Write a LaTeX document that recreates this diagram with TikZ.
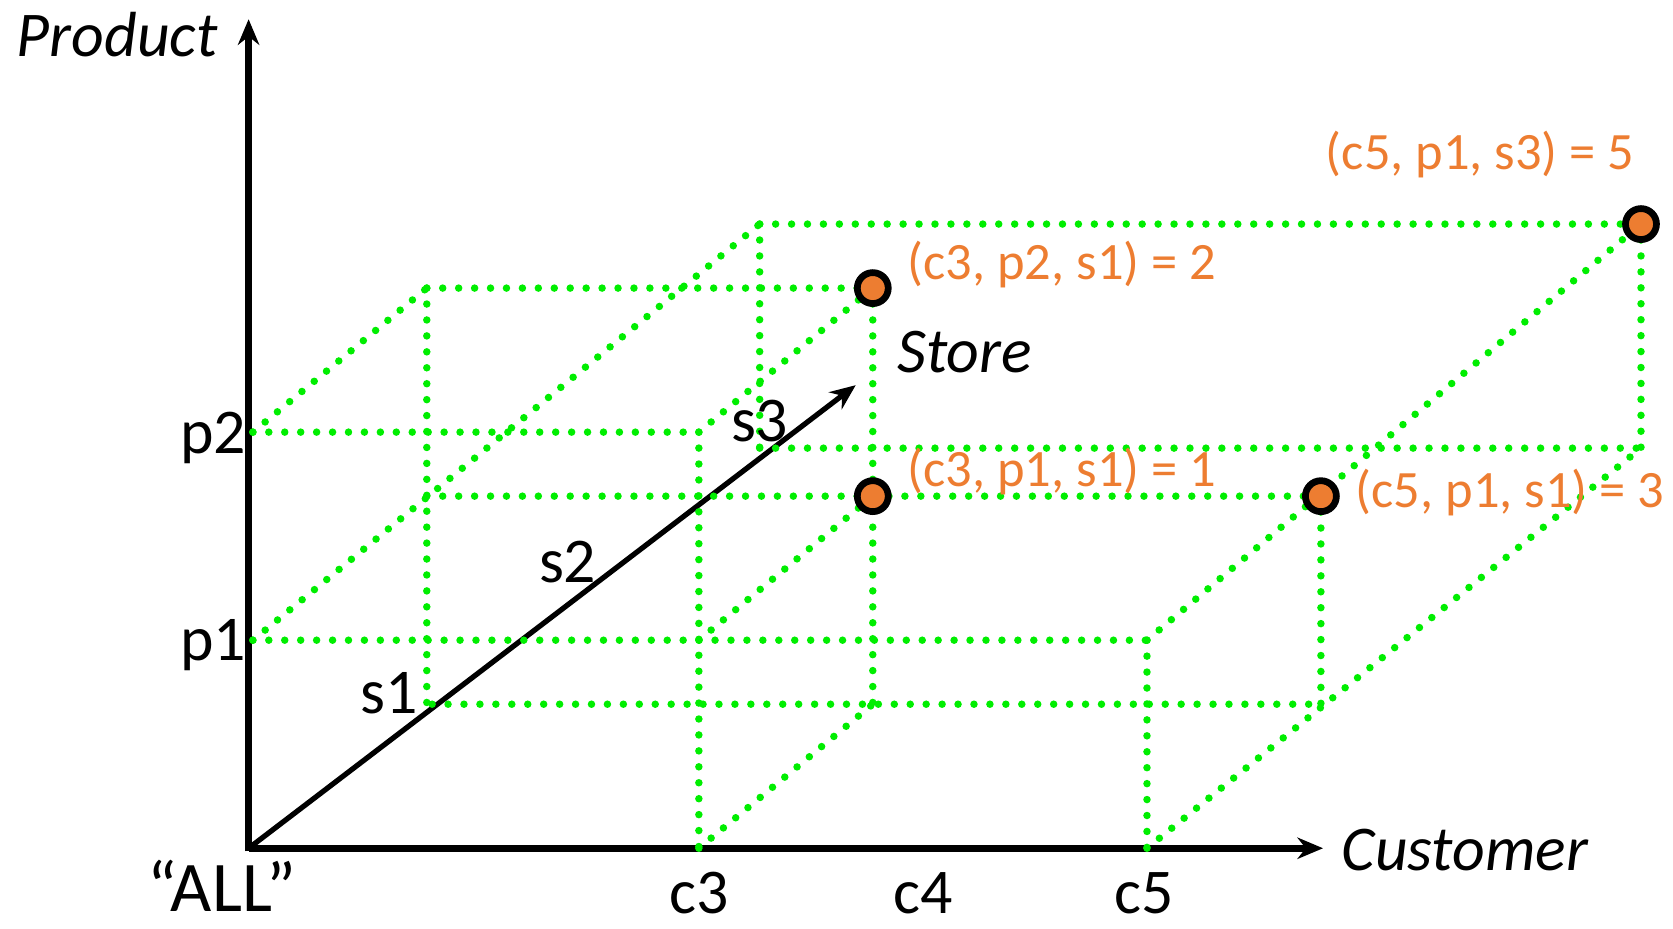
\documentclass[tikz,border=0pt]{standalone}
\usepackage{fontspec}
\setmainfont{Carlito}
\usetikzlibrary{arrows.meta, positioning, calc}
\definecolor{gridgreen}{RGB}{0,238,0}
\definecolor{cellorange}{RGB}{237,125,49}
\tikzset{
  axis/.style={line width=1.8pt, -{Stealth[length=2.4mm, width=2mm]}},
  guide/.style={draw=gridgreen, line width=2pt, line cap=round,
                dash pattern=on 0pt off 4.25pt},
  cell/.style={circle, draw=black, line width=1.8pt, fill=cellorange,
               minimum size=2.9mm, inner sep=0pt},
  axlbl/.style={font=\fontsize{17}{20}\selectfont\itshape, inner sep=0pt},
  ticklbl/.style={font=\fontsize{17}{20}\selectfont, inner sep=0pt},
  vallbl/.style={font=\fontsize{14}{17}\selectfont, text=cellorange,
                 inner sep=0pt, anchor=west}
}

\begin{document}
\begin{tikzpicture}[x=0.1mm, y=-0.1mm]
  \useasboundingbox (0,0) rectangle (1568,870);
  % corners of the cube, store = s0
  \coordinate (O)    at (233,795);
  \coordinate (p2)   at (237,405);
  \coordinate (p1)   at (237,600);
  \coordinate (c3)   at (655,795);
  \coordinate (c5)   at (1075,795);
  \coordinate (c3p2) at (655,405);
  \coordinate (c3p1) at (655,600);
  \coordinate (c5p1) at (1075,600);
  % store = s1
  \coordinate (s1)     at (405,660);
  \coordinate (s1p1)   at (400,465);
  \coordinate (s1p2)   at (400,270);
  \coordinate (c3s1)   at (818,660);
  \coordinate (c3p1s1) at (818,465);
  \coordinate (c3p2s1) at (818,270);
  \coordinate (c5s1)   at (1238,660);
  \coordinate (c5p1s1) at (1238,465);
  % store = s3
  \coordinate (s3)     at (712,420);
  \coordinate (p1s3)   at (712,210);
  \coordinate (c5s3)   at (1538,420);
  \coordinate (c5p1s3) at (1538,210);

  % axes
  \draw[axis] (233,798) -- (233,18) coordinate (ptop);
  \draw[axis] (O) -- (1240,795) coordinate (cend);
  \draw[axis, line width=1.4pt] (O) -- (802,361) coordinate (send);

  % dotted guides
  \draw[guide] (p2) -- (c3p2);
  \draw[guide] (p1) -- (c5p1);
  \draw[guide] (c3p2) -- (c3);
  \draw[guide] (c5p1) -- (c5);
  \draw[guide] (s1p2) -- (c3p2s1);
  \draw[guide] (s1p1) -- (c5p1s1);
  \draw[guide] (s1) -- (c5s1);
  \draw[guide] (s1p2) -- (400,660);
  \draw[guide] (c3p2s1) -- (c3s1);
  \draw[guide] (c5p1s1) -- (c5s1);
  \draw[guide] (p1s3) -- (c5p1s3);
  \draw[guide] (s3) -- (c5s3);
  \draw[guide] (p1s3) -- (s3);
  \draw[guide] (c5p1s3) -- (c5s3);
  \draw[guide] (p2) -- (s1p2);
  \draw[guide] (p1) -- (p1s3);
  \draw[guide] (c3p2) -- (c3p2s1);
  \draw[guide] (c3p1) -- (c3p1s1);
  \draw[guide] (c3) -- (c3s1);
  \draw[guide] (c5p1) -- (c5p1s3);
  \draw[guide] (c5) -- (c5s3);

  % cells
  \node[cell] (v1) at (c3p1s1) {};
  \node[cell] (v2) at (c3p2s1) {};
  \node[cell] (v3) at (c5p1s1) {};
  \node[cell] (v5) at (c5p1s3) {};
  \node[vallbl] (v2lbl) at (850,248) {(c3, p2, s1) = 2};
  \node[vallbl] (v1lbl) at (850,442) {(c3, p1, s1) = 1};
  \node[vallbl] (v3lbl) at (1270,462) {(c5, p1, s1) = 3};
  \node[vallbl] (v5lbl) at (1242,145) {(c5, p1, s3) = 5};

  % axis labels
  \node[axlbl] (prod)  at (110,32)  {Product};
  \node[axlbl] (cust)  at (1373,797) {Customer};
  \node[axlbl] (store) at (904,330) {Store};
  \node[ticklbl, font=\fontsize{19}{22}\selectfont] (all) at (208,830) {“ALL”};
  \node[ticklbl] at (655,837) {c3};
  \node[ticklbl] at (865,837) {c4};
  \node[ticklbl] at (1072,837) {c5};
  \node[ticklbl] at (200,605) {p1};
  \node[ticklbl] at (200,410) {p2};
  \node[ticklbl] at (365,650) {s1};
  \node[ticklbl] at (532,527) {s2};
  \node[ticklbl] at (712,395) {s3};
\end{tikzpicture}
\end{document}
